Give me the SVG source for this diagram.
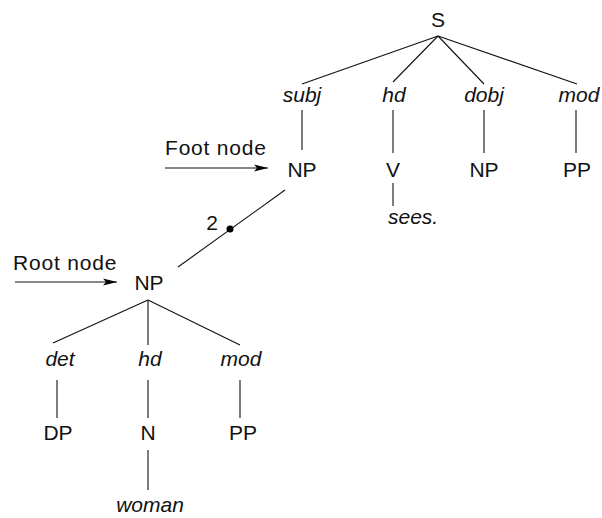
<svg xmlns="http://www.w3.org/2000/svg" width="602" height="518" viewBox="0 0 602 518">
<defs>
<marker id="arr" viewBox="0 0 14 8" refX="14" refY="4" markerWidth="14" markerHeight="8" markerUnits="userSpaceOnUse" orient="auto">
<path d="M0,0.6 L14,4 L0,7.4 L3,4 Z" fill="#000"/>
</marker>
<style>
text{font-family:"Liberation Sans",Arial,sans-serif;font-size:21px;fill:#111}
.cat{text-anchor:middle}
.lab{text-anchor:middle;font-style:italic}
.note{letter-spacing:0.8px}
line{stroke:#111;stroke-width:1.1;fill:none}
</style>
</defs>
<rect width="602" height="518" fill="#fff"/>
<g id="connectors">
<line x1="438" y1="36" x2="302" y2="84"/>
<line x1="438" y1="36" x2="393" y2="82"/>
<line x1="438" y1="36" x2="484" y2="84"/>
<line x1="438" y1="36" x2="577" y2="84"/>
<line x1="302" y1="110" x2="302" y2="150"/>
<line x1="393" y1="110" x2="393" y2="153"/>
<line x1="484" y1="110" x2="484" y2="153"/>
<line x1="576" y1="110" x2="576" y2="153"/>
<line x1="393" y1="183" x2="393" y2="206"/>
<line x1="285" y1="190" x2="178" y2="267"/>
<line x1="148" y1="300" x2="53" y2="343"/>
<line x1="148" y1="300" x2="148" y2="345"/>
<line x1="148" y1="300" x2="240" y2="345"/>
<line x1="57" y1="380" x2="57" y2="418"/>
<line x1="148" y1="380" x2="148" y2="418"/>
<line x1="240" y1="380" x2="240" y2="418"/>
<line x1="148" y1="450" x2="148" y2="490"/>
<line x1="165" y1="168" x2="268" y2="168" marker-end="url(#arr)"/>
<line x1="15" y1="282" x2="117" y2="282" marker-end="url(#arr)"/>
<circle cx="230" cy="229" r="3.5" fill="#000"/>
<text x="212" y="230" class="cat">2</text>
</g>
<g id="S"><text x="438" y="27" class="cat">S</text></g>
<g id="subj"><text x="302" y="102" class="lab">subj</text></g>
<g id="hd1"><text x="394" y="102" class="lab">hd</text></g>
<g id="dobj"><text x="484" y="102" class="lab">dobj</text></g>
<g id="mod1"><text x="579" y="102" class="lab">mod</text></g>
<g id="NP-foot"><text x="302" y="177" class="cat">NP</text></g>
<g id="V"><text x="393" y="177" class="cat">V</text></g>
<g id="NP-obj"><text x="484" y="177" class="cat">NP</text></g>
<g id="PP1"><text x="577" y="177" class="cat">PP</text></g>
<g id="sees"><text x="388" y="224" font-style="italic">sees.</text></g>
<g id="foot-label"><text x="165" y="155" class="note">Foot node</text></g>
<g id="root-label"><text x="13" y="270" class="note">Root node</text></g>
<g id="NP-root"><text x="149" y="290" class="cat">NP</text></g>
<g id="det"><text x="60" y="366" class="lab">det</text></g>
<g id="hd2"><text x="150" y="366" class="lab">hd</text></g>
<g id="mod2"><text x="241" y="366" class="lab">mod</text></g>
<g id="DP"><text x="58" y="440" class="cat">DP</text></g>
<g id="N"><text x="148" y="440" class="cat">N</text></g>
<g id="PP2"><text x="243" y="440" class="cat">PP</text></g>
<g id="woman"><text x="150" y="512" class="lab">woman</text></g>
</svg>
